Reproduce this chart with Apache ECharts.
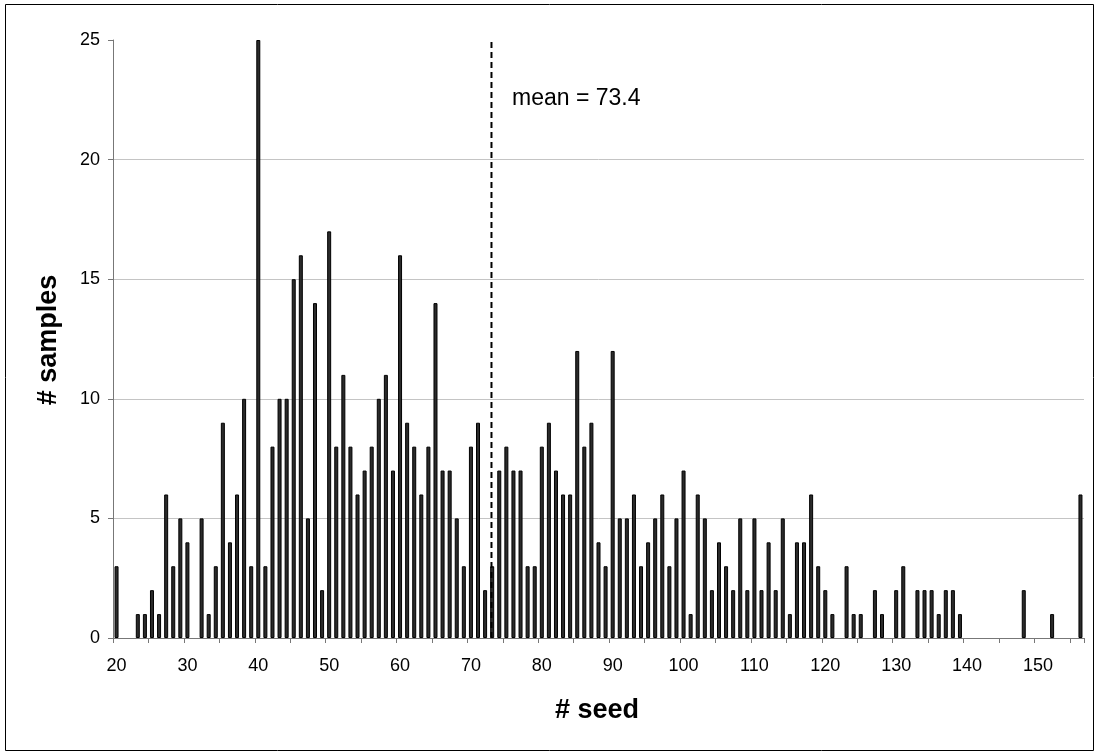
<!DOCTYPE html>
<html>
<head>
<meta charset="utf-8">
<script src="https://cdn.jsdelivr.net/npm/echarts@6/dist/echarts.min.js"></script>
<style>
  html, body { margin: 0; padding: 0; background: #fff; }
  #chart { width: 1095px; height: 752px; }
</style>
</head>
<body>
<div id="chart"></div>
<script>
// Seed counts (one bin per seed value)
const seeds = [
  20, 21, 22, 23, 24, 25, 26, 27, 28, 29,
  30, 31, 32, 33, 34, 35, 36, 37, 38, 39,
  40, 41, 42, 43, 44, 45, 46, 47, 48, 49,
  50, 51, 52, 53, 54, 55, 56, 57, 58, 59,
  60, 61, 62, 63, 64, 65, 66, 67, 68, 69,
  70, 71, 72, 73, 74, 75, 76, 77, 78, 79,
  80, 81, 82, 83, 84, 85, 86, 87, 88, 89,
  90, 91, 92, 93, 94, 95, 96, 97, 98, 99,
  100, 101, 102, 103, 104, 105, 106, 107, 108, 109,
  110, 111, 112, 113, 114, 115, 116, 117, 118, 119,
  120, 121, 122, 123, 124, 125, 126, 127, 128, 129,
  130, 131, 132, 133, 134, 135, 136, 137, 138, 139,
  140, 141, 142, 143, 144, 145, 146, 147, 148, 149,
  150, 151, 152, 153, 154, 155, 156
];

// Number of samples per seed
const samples = [
  3, 0, 0, 1, 1, 2, 1, 6, 3, 5,
  4, 0, 5, 1, 3, 9, 4, 6, 10, 3,
  25, 3, 8, 10, 10, 15, 16, 5, 14, 2,
  17, 8, 11, 8, 6, 7, 8, 10, 11, 7,
  16, 9, 8, 6, 8, 14, 7, 7, 5, 3,
  8, 9, 2, 3, 7, 8, 7, 7, 3, 3,
  8, 9, 7, 6, 6, 12, 8, 9, 4, 3,
  12, 5, 5, 6, 3, 4, 5, 6, 3, 5,
  7, 1, 6, 5, 2, 4, 3, 2, 5, 2,
  5, 2, 4, 2, 5, 1, 4, 4, 6, 3,
  2, 1, 0, 3, 1, 1, 0, 2, 1, 0,
  2, 3, 0, 2, 2, 2, 1, 2, 2, 1,
  0, 0, 0, 0, 0, 0, 0, 0, 2, 0,
  0, 0, 1, 0, 0, 0, 6
];

const meanSeed = 73.4;
const yTicks = [0, 5, 10, 15, 20, 25];

const chart = echarts.init(document.getElementById('chart'), null, { renderer: 'canvas' });

const axisGray = '#777777';
const font = '"Liberation Sans", Arial, sans-serif';

// empty bins get no outline so nothing is drawn on the baseline
const barData = samples.map(v => v === 0 ? { value: 0, itemStyle: { borderWidth: 0 } } : v);

chart.setOption({
  animation: false,
  backgroundColor: '#ffffff',
  textStyle: { fontFamily: font },
  grid: { left: 113, right: 11, top: 40, bottom: 114, containLabel: false },
  xAxis: [
    {
      type: 'category',
      data: seeds.map(String),
      boundaryGap: true,
      axisLine: { show: true, lineStyle: { color: axisGray, width: 1 } },
      axisTick: { show: true, interval: 4, length: 5, inside: false, lineStyle: { color: axisGray } },
      axisLabel: { interval: 9, fontSize: 18, color: '#000', margin: 19, fontFamily: font },
      splitLine: { show: false }
    },
    {
      // continuous seed scale: bin n spans [n, n + 1)
      type: 'value',
      min: seeds[0],
      max: seeds[seeds.length - 1] + 1,
      show: false
    }
  ],
  yAxis: {
    type: 'value',
    min: yTicks[0],
    max: yTicks[yTicks.length - 1],
    interval: yTicks[1] - yTicks[0],
    axisLine: { show: true, lineStyle: { color: axisGray, width: 1 } },
    axisTick: { show: true, length: 5, lineStyle: { color: axisGray } },
    axisLabel: { fontSize: 18, color: '#000', margin: 13, fontFamily: font },
    splitLine: { show: true, showMinLine: false, showMaxLine: false, lineStyle: { color: '#c4c4c4', width: 1 } }
  },
  series: [
    {
      type: 'bar',
      data: barData,
      barWidth: 4,
      itemStyle: { color: '#2b2b2b', borderColor: '#000', borderWidth: 1 },
      silent: true
    },
    {
      type: 'line',
      xAxisIndex: 1,
      data: [[meanSeed, yTicks[0]], [meanSeed, yTicks[yTicks.length - 1]]],
      symbol: 'none',
      lineStyle: { color: '#000', width: 2, type: [6, 4] },
      silent: true,
      z: 5
    }
  ],
  graphic: [
    {
      type: 'rect',
      shape: { x: 5.5, y: 4.5, width: 1088, height: 746 },
      style: { fill: 'none', stroke: '#000', lineWidth: 1 },
      silent: true
    },
    {
      type: 'text',
      x: 49, y: 340,
      rotation: Math.PI / 2,
      style: { text: '# samples', font: 'bold 27px ' + font, fill: '#000', align: 'center', verticalAlign: 'middle' }
    },
    {
      type: 'text',
      x: 597, y: 711,
      style: { text: '# seed', font: 'bold 27px ' + font, fill: '#000', align: 'center', verticalAlign: 'middle' }
    },
    {
      type: 'text',
      x: 512, y: 99,
      style: { text: 'mean = ' + meanSeed, font: '23px ' + font, fill: '#000', align: 'left', verticalAlign: 'middle' }
    }
  ]
});
</script>
</body>
</html>
